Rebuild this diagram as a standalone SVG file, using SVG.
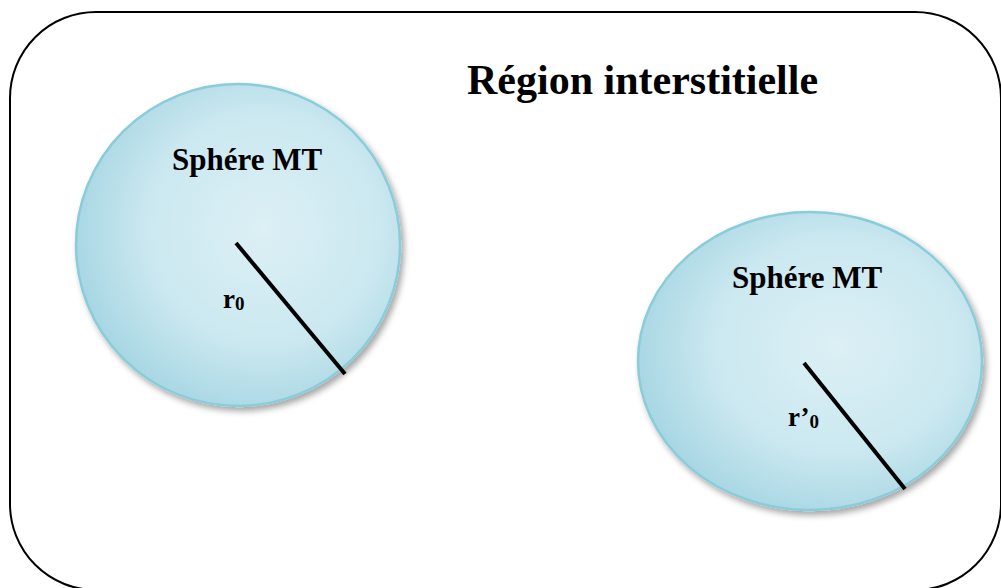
<svg xmlns="http://www.w3.org/2000/svg" width="1001" height="588" viewBox="0 0 1001 588">
<style>
.frame{fill:none;stroke:#000;stroke-width:2}
.sphere{stroke:#8accd9;stroke-width:2.5;fill:url(#sg);filter:url(#sh)}
.radius{stroke:#000;stroke-width:4;stroke-linecap:butt}
.t{font-family:"Liberation Serif","Times New Roman",serif;font-weight:bold;fill:#000}
</style>
<defs>
<radialGradient id="sg" cx="0.58" cy="0.45" r="0.6">
<stop offset="0" stop-color="#dcf0f5"/>
<stop offset="0.6" stop-color="#cbe8f0"/>
<stop offset="1" stop-color="#a6d6e3"/>
</radialGradient>
<filter id="sh" x="-10%" y="-10%" width="125%" height="125%">
<feDropShadow dx="3" dy="4" stdDeviation="3" flood-color="#000" flood-opacity="0.35"/>
</filter>
</defs>
<g id="frame">
<rect class="frame" x="10" y="12" width="991" height="578" rx="86" ry="86"/>
<text class="t" x="467" y="94" font-size="42">Région interstitielle</text>
</g>
<g id="sphere1">
<ellipse class="sphere" cx="238" cy="245" rx="162" ry="161"/>
<text class="t" x="172" y="170" font-size="31">Sphére MT</text>
<text class="t" x="223" y="308" font-size="27">r<tspan font-size="19" dy="2">0</tspan></text>
</g>
<g id="sphere2">
<ellipse class="sphere" cx="810" cy="361" rx="172" ry="149"/>
<text class="t" x="732" y="288" font-size="31">Sphére MT</text>
<text class="t" x="788" y="426" font-size="27">r’<tspan font-size="19" dy="2">0</tspan></text>
</g>
<g id="connectors">
<line class="radius" x1="236" y1="243" x2="345" y2="374"/>
<line class="radius" x1="804" y1="363" x2="905" y2="489"/>
</g>
</svg>
